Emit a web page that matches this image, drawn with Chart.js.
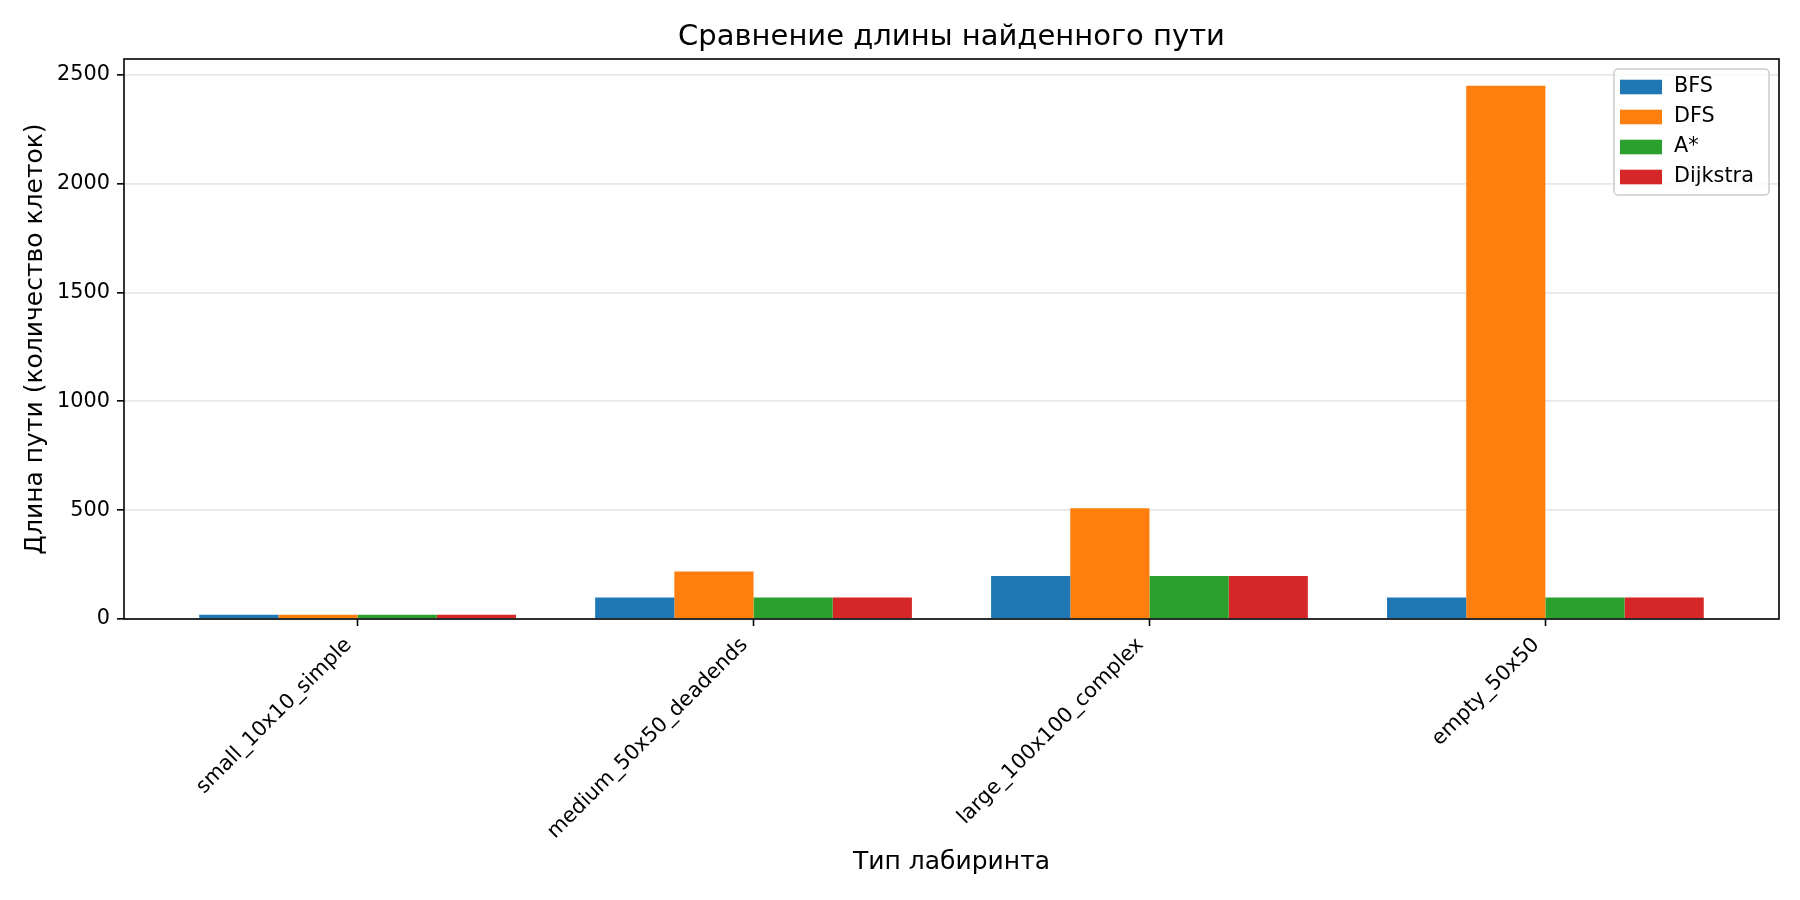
<!DOCTYPE html>
<html>
<head>
<meta charset="utf-8">
<script src="https://cdn.jsdelivr.net/npm/chart.js@4"></script>
<style>
  html, body { margin: 0; padding: 0; background: #fff; }
  #wrap { width: 1800px; height: 900px; position: relative; }
</style>
</head>
<body>
<div id="wrap"><canvas id="pathChart"></canvas></div>
<script>
// Maze types and path lengths (cells) per algorithm
const mazeTypes = ['small_10x10_simple', 'medium_50x50_deadends', 'large_100x100_complex', 'empty_50x50'];
const bfsLen = [19, 99, 197, 99];
const dfsLen = [19, 218, 509, 2449];
const astarLen = [19, 99, 197, 99];
const dijkstraLen = [19, 99, 197, 99];
const yTicks = [0, 500, 1000, 1500, 2000, 2500];

const seriesConfig = [
    { label: 'BFS', values: bfsLen, color: '#1f77b4' },
    { label: 'DFS', values: dfsLen, color: '#ff7f0e' },
    { label: 'A*', values: astarLen, color: '#2ca02c' },
    { label: 'Dijkstra', values: dijkstraLen, color: '#d62728' }
];

Chart.defaults.font.family = '"DejaVu Sans", sans-serif';
Chart.defaults.color = '#000';

// axes frame (all four spines) drawn over the bars
const framePlugin = {
    id: 'frame',
    afterDatasetsDraw(chart) {
        const { ctx, chartArea: a } = chart;
        ctx.save();
        ctx.strokeStyle = '#000';
        ctx.lineWidth = 1.6;
        ctx.strokeRect(a.left, a.top, a.right - a.left, a.bottom - a.top);
        ctx.restore();
    }
};

// matplotlib-like legend box in the upper right corner of the axes
const boxLegend = {
    id: 'boxLegend',
    afterDraw(chart) {
        const { ctx, chartArea: a } = chart;
        const w = 155, h = 126;
        const x = a.right - 10 - w, y = a.top + 10;
        ctx.save();
        ctx.beginPath();
        ctx.roundRect(x, y, w, h, 4);
        ctx.fillStyle = 'rgba(255,255,255,0.8)';
        ctx.fill();
        ctx.strokeStyle = '#cccccc';
        ctx.lineWidth = 1.5;
        ctx.stroke();
        ctx.font = '20.8px "DejaVu Sans"';
        ctx.textBaseline = 'middle';
        chart.data.datasets.forEach((ds, i) => {
            const cy = y + 18 + i * 30;
            ctx.fillStyle = ds.backgroundColor;
            ctx.fillRect(x + 6, cy - 7.3, 42, 14.6);
            ctx.fillStyle = '#000';
            ctx.fillText(ds.label, x + 60, cy);
        });
        ctx.restore();
    }
};

const ctx = document.getElementById('pathChart').getContext('2d');
new Chart(ctx, {
    type: 'bar',
    data: {
        datasets: seriesConfig.map(s => ({
            label: s.label,
            data: s.values.map((v, i) => ({ x: i, y: v })),
            backgroundColor: s.color,
            borderWidth: 0,
            categoryPercentage: 0.8,
            barPercentage: 1.0
        }))
    },
    options: {
        responsive: true,
        maintainAspectRatio: false,
        devicePixelRatio: 1,
        animation: false,
        layout: { padding: { left: 0, right: 21, top: 0, bottom: 0 } },
        plugins: {
            legend: { display: false },
            tooltip: { enabled: false },
            title: {
                display: true,
                fullSize: false,
                text: 'Сравнение длины найденного пути',
                color: '#000',
                font: { size: 29, weight: 'normal' },
                padding: { top: 20, bottom: 4.2 }
            }
        },
        scales: {
            x: {
                type: 'linear',
                min: -0.59,
                max: 3.59,
                offset: false,
                afterBuildTicks: scale => { scale.ticks = mazeTypes.map((_, i) => ({ value: i })); },
                afterFit: scale => { scale.height = 281; },
                grid: {
                    offset: false,
                    drawOnChartArea: false,
                    drawTicks: true,
                    tickLength: 7,
                    tickColor: '#000',
                    tickWidth: 1.6
                },
                border: { display: false },
                ticks: {
                    autoSkip: false,
                    maxRotation: 45,
                    minRotation: 45,
                    padding: 7,
                    labelOffset: -9,
                    color: '#000',
                    font: { size: 20.8 },
                    callback: v => mazeTypes[v]
                },
                title: {
                    display: true,
                    text: 'Тип лабиринта',
                    color: '#000',
                    font: { size: 25 },
                    padding: { top: 0, bottom: 23 }
                }
            },
            y: {
                min: 0,
                max: 2572,
                z: 1,
                afterBuildTicks: scale => { scale.ticks = yTicks.map(v => ({ value: v })); },
                afterFit: scale => { scale.width = 124; },
                grid: {
                    color: 'rgba(176,176,176,0.3)',
                    lineWidth: 1.67,
                    drawTicks: true,
                    tickLength: 7,
                    tickColor: '#000',
                    tickWidth: 1.6
                },
                border: { display: false },
                ticks: {
                    padding: 7,
                    color: '#000',
                    font: { size: 20.8 },
                    callback: v => String(v)
                },
                title: {
                    display: true,
                    text: 'Длина пути (количество клеток)',
                    color: '#000',
                    font: { size: 25 },
                    padding: { top: 20, bottom: 0 }
                }
            }
        }
    },
    plugins: [framePlugin, boxLegend]
});
</script>
</body>
</html>
